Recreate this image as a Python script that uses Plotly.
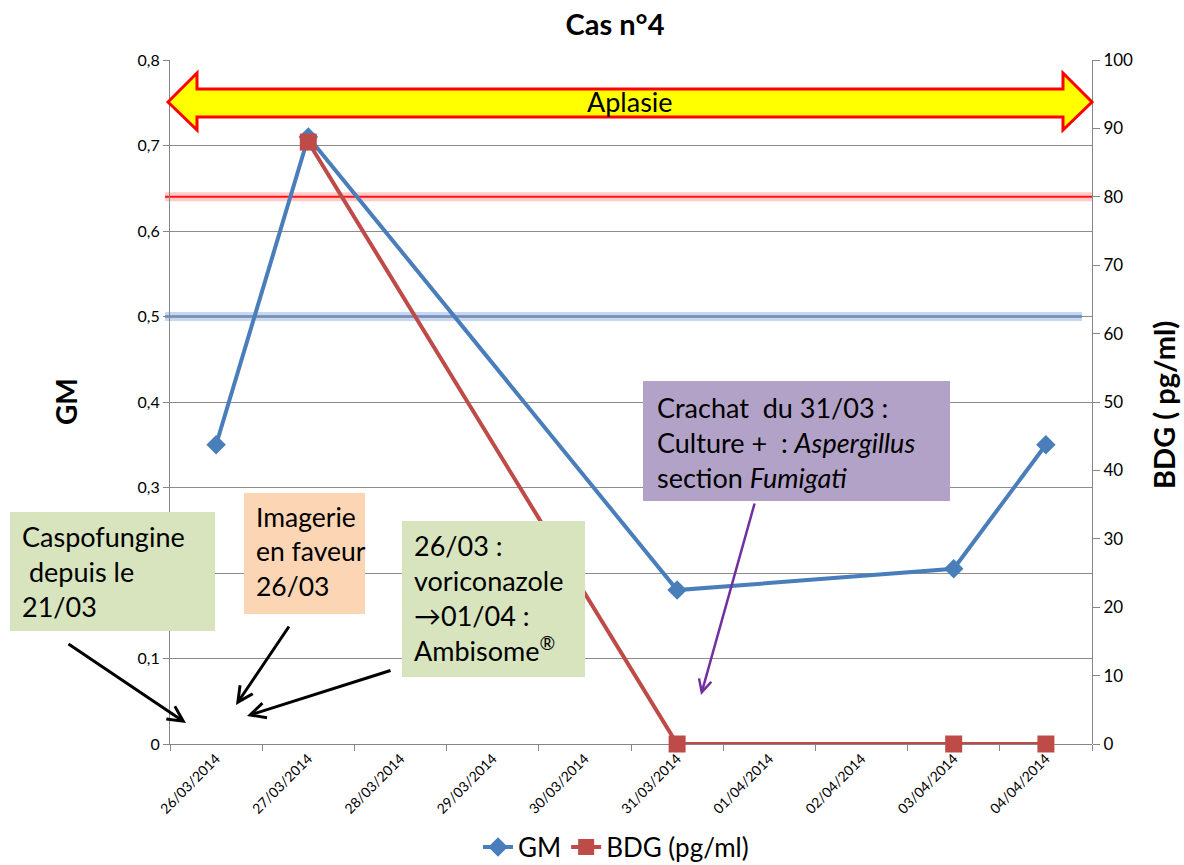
import plotly.graph_objects as go

# Dates (category axis)
dates = ["26/03/2014", "27/03/2014", "28/03/2014", "29/03/2014", "30/03/2014",
         "31/03/2014", "01/04/2014", "02/04/2014", "03/04/2014", "04/04/2014"]

# Galactomannan index (left axis); None where no sample
gm = [0.35, 0.71, None, None, None, 0.18, None, None, 0.205, 0.35]

# Beta-D-glucan, pg/ml (right axis)
bdg = [None, 88, None, None, None, 0, None, None, 0, 0]

# Positivity thresholds
gm_threshold = 0.5
bdg_threshold = 80

FONT = "Lato"
W, H = 1184, 865
L, R, T, B = 170, 92, 60, 121
PW, PH = W - L - R, H - T - B


def px(x):
    """pixel x -> paper x"""
    return (x - L) / PW


def py(y):
    """pixel y -> paper y"""
    return (H - B - y) / PH


fig = go.Figure()

fig.add_trace(go.Scatter(
    x=dates, y=gm, name="GM", mode="lines+markers", connectgaps=True,
    line=dict(color="#4A7EBB", width=4),
    marker=dict(symbol="diamond", size=15, color="#4A7EBB"),
    cliponaxis=False, xaxis="x", yaxis="y",
))
# BDG sits in its own subplot sharing the same area, so its markers
# on the zero line are not clipped and it is drawn above GM
fig.add_trace(go.Scatter(
    x=dates, y=bdg, name="BDG (pg/ml)", mode="lines+markers", connectgaps=True,
    line=dict(color="#BE4B48", width=4),
    marker=dict(symbol="square", size=17, color="#BE4B48"),
    cliponaxis=False, xaxis="x2", yaxis="y2",
))

shapes = []

# Threshold lines with a soft glow
shapes += [
    dict(type="line", xref="paper", yref="y2", x0=px(165), x1=1.0,
         y0=bdg_threshold, y1=bdg_threshold, layer="below",
         line=dict(color="rgba(255,80,80,0.30)", width=9)),
    dict(type="line", xref="paper", yref="y2", x0=px(165), x1=1.0,
         y0=bdg_threshold, y1=bdg_threshold, layer="below",
         line=dict(color="#FF1414", width=2)),
    dict(type="line", xref="paper", yref="y", x0=px(165), x1=px(1082),
         y0=gm_threshold, y1=gm_threshold, layer="below",
         line=dict(color="rgba(90,140,220,0.35)", width=9)),
    dict(type="line", xref="paper", yref="y", x0=px(165), x1=px(1082),
         y0=gm_threshold, y1=gm_threshold, layer="below",
         line=dict(color="#2F5FA8", width=2)),
]

# "Aplasie" double-headed arrow
xl, xlh, xrh, xr = 168, 197, 1063, 1092
yt, ybt, ybb, yb, ym = 73, 89, 117, 130, 102
pts = [(xl, ym), (xlh, yt), (xlh, ybt), (xrh, ybt), (xrh, yt), (xr, ym),
       (xrh, yb), (xrh, ybb), (xlh, ybb), (xlh, yb)]
path = "M " + " L ".join(f"{px(a):.5f},{py(b):.5f}" for a, b in pts) + " Z"
shapes.append(dict(type="path", xref="paper", yref="paper", path=path,
                   fillcolor="#FFFF00", line=dict(color="#FF0000", width=3),
                   layer="above"))

# Comment boxes
boxes = [
    ((10, 512, 215, 631), "#D7E4BD"),
    ((244, 493, 365, 614), "#FCD5B5"),
    ((402, 521, 585, 677), "#D7E4BD"),
    ((643, 381, 950, 501), "#B3A2C7"),
]
for (x0, y0, x1, y1), col in boxes:
    shapes.append(dict(type="rect", xref="paper", yref="paper",
                       x0=px(x0), x1=px(x1), y0=py(y1), y1=py(y0),
                       fillcolor=col, line=dict(width=0), layer="above"))

annotations = []

annotations.append(dict(text="Aplasie", xref="paper", yref="paper",
                        x=px(630), y=py(102), xanchor="center", yanchor="middle",
                        showarrow=False,
                        font=dict(family=FONT, size=27, color="black")))

box_texts = [
    ("Caspofungine<br> depuis le<br>21/03", 20, 518, 27),
    ("Imagerie<br>en faveur<br>26/03", 254, 499, 26.5),
    ("26/03 :<br>voriconazole<br>\u219201/04 :<br>Ambisome<sup style='font-size:15px'>\u00ae</sup>",
     412, 527, 27),
    ("Crachat  du 31/03 :<br>Culture +  : <i>Aspergillus</i><br>section <i>Fumigati</i>",
     655, 389, 27),
]
for txt, x, y, fs in box_texts:
    annotations.append(dict(text=txt, xref="paper", yref="paper",
                            x=px(x), y=py(y), xanchor="left", yanchor="top",
                            align="left", showarrow=False,
                            font=dict(family=FONT, size=fs, color="black")))

# Pointer arrows (head, tail) in pixels
pointers = [
    ((186, 723), (67, 643), "black"),
    ((236, 705), (290, 625), "black"),
    ((247, 716), (392, 670), "black"),
    ((701, 695), (755, 502), "#7030A0"),
]
for (hx, hy), (tx, ty), col in pointers:
    annotations.append(dict(text="", xref="paper", yref="paper",
                            x=px(hx), y=py(hy), ax=tx - hx, ay=ty - hy,
                            showarrow=True, arrowhead=5, arrowsize=1,
                            arrowwidth=3 if col == "black" else 2.5,
                            arrowcolor=col))

# Axis titles
annotations.append(dict(text="<b>GM</b>", xref="paper", yref="paper",
                        x=px(66), y=py(402), xanchor="center", yanchor="middle",
                        textangle=-90, showarrow=False,
                        font=dict(family=FONT, size=28, color="black")))
annotations.append(dict(text="<b>BDG ( pg/ml)</b>", xref="paper", yref="paper",
                        x=px(1163), y=py(405), xanchor="center", yanchor="middle",
                        textangle=-90, showarrow=False,
                        font=dict(family=FONT, size=29, color="black")))

fig.update_layout(
    width=W, height=H,
    margin=dict(l=L, r=R, t=T, b=B, autoexpand=False),
    paper_bgcolor="white", plot_bgcolor="rgba(0,0,0,0)",
    separators=", ",
    font=dict(family=FONT, color="black"),
    title=dict(text="<b>Cas n°4</b>", x=615 / W, xanchor="center",
               y=1 - 25 / H, yanchor="middle",
               font=dict(family=FONT, size=29, color="black")),
    xaxis=dict(type="category", range=[-0.5, 9.5], tickson="boundaries",
               domain=[0, 1], anchor="y",
               ticks="outside", ticklen=6, tickcolor="#868686",
               showline=True, linecolor="#868686", linewidth=1,
               showgrid=False, tickangle=-45,
               tickfont=dict(family=FONT, size=14)),
    xaxis2=dict(type="category", range=[-0.5, 9.5], matches="x",
                domain=[0, 1], anchor="y2", visible=False,
                showgrid=False, zeroline=False),
    yaxis=dict(range=[0, 0.8], dtick=0.1, ticks="outside", ticklen=6,
               domain=[0, 1], anchor="x",
               tickcolor="#868686", showline=True, linecolor="#868686",
               showgrid=True, gridcolor="#8C8C8C", gridwidth=1,
               zeroline=False, tickfont=dict(family=FONT, size=16)),
    yaxis2=dict(range=[0, 100], dtick=10, side="right",
                domain=[0, 1], anchor="x2",
                ticks="outside", ticklen=7, tickcolor="#868686",
                showline=True, linecolor="#868686", showgrid=False,
                zeroline=False, tickfont=dict(family=FONT, size=17)),
    legend=dict(orientation="h", x=px(616), xanchor="center",
                y=py(847), yanchor="middle",
                font=dict(family=FONT, size=26), bgcolor="rgba(0,0,0,0)"),
    shapes=shapes,
    annotations=annotations,
)

fig.write_html("out.html")
